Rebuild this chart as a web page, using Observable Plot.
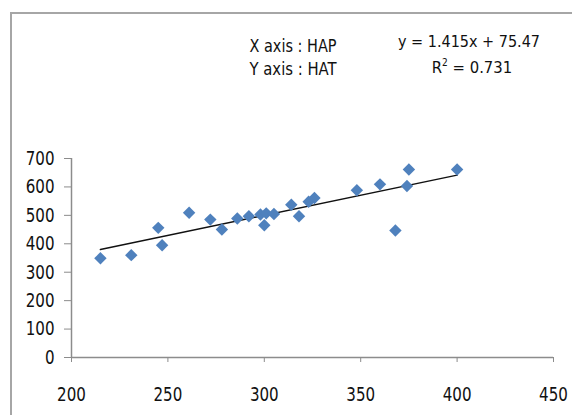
<!DOCTYPE html>
<html>
<head>
<meta charset="utf-8">
<script src="https://cdn.jsdelivr.net/npm/d3@7"></script>
<script src="https://cdn.jsdelivr.net/npm/@observablehq/plot@0.6"></script>
<style>
  html, body { margin: 0; padding: 0; background: #fff; }
  #wrap { position: relative; width: 572px; height: 415px; overflow: hidden; background: #fff; }
  #frame { position: absolute; left: 10px; top: 12px; width: 700px; height: 600px;
           border-left: 2px solid #a6a6a6; border-top: 2px solid #a6a6a6; }
  #chart { position: absolute; left: 0; top: 0; }
  #notes { position: absolute; left: 0; top: 0; }
</style>
</head>
<body>
<div id="wrap">
  <div id="frame"></div>
  <div id="chart"></div>
  <svg id="notes" width="572" height="415"></svg>
</div>
<script>
// HAP (x) values
const hap = [215, 231, 245, 247, 261, 272, 278, 286, 292, 298, 300, 301, 305, 314, 318, 323, 326, 348, 360, 368, 374, 375, 400];
// HAT (y) values
const hat = [349, 360, 456, 395, 509, 485, 450, 489, 497, 503, 465, 507, 505, 537, 497, 548, 561, 588, 609, 447, 603, 661, 661];
const xTicks = [200, 250, 300, 350, 400, 450];
const yTicks = [0, 100, 200, 300, 400, 500, 600, 700];
const slope = 1.415, intercept = 75.47;
const eqText = "y = 1.415x + 75.47";
const r2Text = "0.731";
const axisNotes = ["X axis : HAP", "Y axis : HAT"];

const points = hap.map((x, i) => ({x, y: hat[i]}));
const xMin = d3.min(hap), xMax = d3.max(hap);
const trend = [xMin, xMax].map(x => ({x, y: slope * x + intercept}));

const tickFont = "'DejaVu Sans Condensed', 'DejaVu Sans', sans-serif";

const chart = Plot.plot({
  width: 572,
  height: 415,
  marginLeft: 71,
  marginRight: 19,
  marginTop: 158,
  marginBottom: 58,
  x: {domain: [200, 450]},
  y: {domain: [0, 700]},
  style: {fontFamily: tickFont, fontSize: "20px", color: "#111", background: "transparent"},
  marks: [
    Plot.ruleX([200], {y1: 0, y2: 700, stroke: "#8c8c8c", strokeWidth: 1.5}),
    Plot.ruleY([0], {x1: 200, x2: 450, stroke: "#8c8c8c", strokeWidth: 1.5}),
    Plot.axisY({ticks: yTicks, tickSize: 7, tickPadding: 10, stroke: "#8c8c8c", fill: "#111", label: null, fontSize: 20}),
    Plot.axisX({ticks: xTicks, tickSize: 5, tickPadding: 24, stroke: "#8c8c8c", fill: "#111", label: null, fontSize: 20}),
    Plot.line(trend, {x: "x", y: "y", stroke: "#111", strokeWidth: 1.5}),
    Plot.dot(points, {x: "x", y: "y", symbol: "diamond2", r: 5.6, fill: "#4f81bd", stroke: "none"})
  ]
});
// squeeze tick labels horizontally to mimic the narrow original face
chart.querySelectorAll('g[aria-label$="tick label"] text').forEach(t => {
  const n = t.textContent.length;
  t.setAttribute("textLength", n * 9.6);
  t.setAttribute("lengthAdjust", "spacingAndGlyphs");
});
document.getElementById("chart").appendChild(chart);

// Annotations
const notes = d3.select("#notes");
notes.selectAll("text.ax").data(axisNotes).join("text")
  .attr("class", "ax")
  .attr("x", 293).attr("y", (d, i) => 51.5 + i * 23.5)
  .attr("text-anchor", "middle")
  .attr("font-family", tickFont)
  .attr("font-size", 18.5)
  .attr("fill", "#111")
  .attr("textLength", 87)
  .attr("lengthAdjust", "spacingAndGlyphs")
  .text(d => d);

notes.append("text")
  .attr("x", 469).attr("y", 47)
  .attr("text-anchor", "middle")
  .attr("font-family", tickFont)
  .attr("font-size", 16.5)
  .attr("fill", "#111")
  .attr("textLength", 142)
  .attr("lengthAdjust", "spacingAndGlyphs")
  .text(eqText);

const r2 = notes.append("text")
  .attr("x", 472).attr("y", 73)
  .attr("text-anchor", "middle")
  .attr("font-family", tickFont)
  .attr("font-size", 16.5)
  .attr("fill", "#111");
r2.append("tspan").text("R");
r2.append("tspan").attr("font-size", 10).attr("dy", -7).text("2");
r2.append("tspan").attr("dy", 7).text(" = " + r2Text);
</script>
</body>
</html>
